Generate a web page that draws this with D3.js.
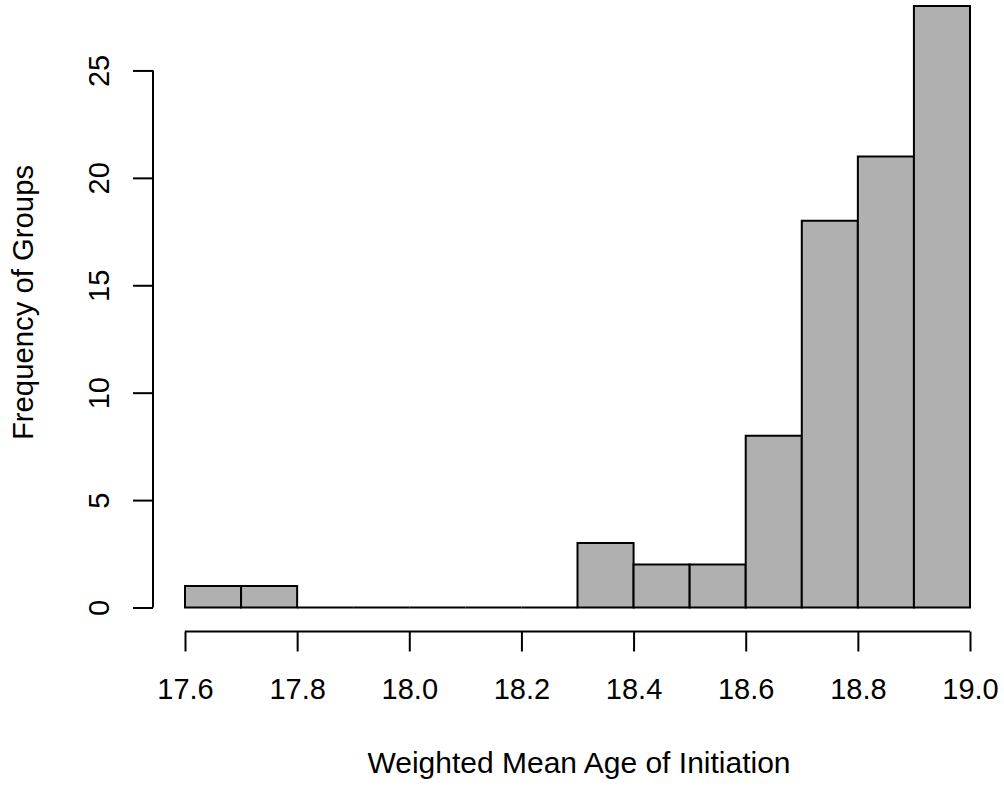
<!DOCTYPE html>
<html>
<head>
<meta charset="utf-8">
<script src="https://cdn.jsdelivr.net/npm/d3@7"></script>
<style>
  html, body { margin: 0; padding: 0; background: #fff; }
  svg { display: block; }
  text { font-family: "Liberation Sans", Arial, sans-serif; fill: #000; }
</style>
</head>
<body>
<svg id="chart" width="1004" height="786"></svg>
<script>
// Histogram bins (left edges, right edges) and counts
const binStarts = [17.6, 17.7, 17.8, 17.9, 18.0, 18.1, 18.2, 18.3, 18.4, 18.5, 18.6, 18.7, 18.8, 18.9];
const binEnds   = [17.7, 17.8, 17.9, 18.0, 18.1, 18.2, 18.3, 18.4, 18.5, 18.6, 18.7, 18.8, 18.9, 19.0];
const counts    = [1, 1, 0, 0, 0, 0, 0, 3, 2, 2, 8, 18, 21, 28];
const xTicks = [17.6, 17.8, 18.0, 18.2, 18.4, 18.6, 18.8, 19.0];
const yTicks = [0, 5, 10, 15, 20, 25];
const xTitle = "Weighted Mean Age of Initiation";
const yTitle = "Frequency of Groups";

const svg = d3.select("#chart");
const x = d3.scaleLinear().domain([17.6, 19.0]).range([185, 970]);
const y = d3.scaleLinear().domain([0, 28]).range([607.5, 6]);
const tickFont = 29;

const bins = binStarts.map((s, i) => ({ x0: s, x1: binEnds[i], n: counts[i] }));

// Bars drawn as closed paths so zero-count bins still show their outline
svg.append("g").selectAll("path")
  .data(bins)
  .join("path")
  .attr("d", d => {
    const x0 = x(d.x0), x1 = x(d.x1), y0 = y(0), y1 = y(d.n);
    return `M${x0},${y0}L${x0},${y1}L${x1},${y1}L${x1},${y0}Z`;
  })
  .attr("fill", "#b0b0b0")
  .attr("stroke", "#000")
  .attr("stroke-width", 2)
  .attr("stroke-linejoin", "miter");

// X axis (R style: line from first to last tick, offset below)
const xAxisY = 631.5;
const xAxis = d3.axisBottom(x).tickValues(xTicks).tickFormat(d3.format(".1f"))
  .tickSizeOuter(0).tickSizeInner(20);
const gx = svg.append("g").attr("transform", `translate(0,${xAxisY})`).call(xAxis);
gx.select(".domain").remove();
gx.append("line")
  .attr("x1", x(xTicks[0])).attr("x2", x(xTicks[xTicks.length - 1]))
  .attr("y1", 0).attr("y2", 0)
  .attr("stroke", "#000").attr("stroke-width", 2);
gx.selectAll(".tick line").attr("stroke", "#000").attr("stroke-width", 2);
gx.selectAll(".tick text")
  .attr("dy", null).attr("y", 67.5)
  .style("font-family", '"Liberation Sans", Arial, sans-serif')
  .style("font-size", tickFont + "px").attr("fill", "#000");

// Y axis
const yAxisX = 153;
const yAxis = d3.axisLeft(y).tickValues(yTicks).tickFormat(d3.format("d"))
  .tickSizeOuter(0).tickSizeInner(20);
const gy = svg.append("g").attr("transform", `translate(${yAxisX},0)`).call(yAxis);
gy.select(".domain").remove();
gy.append("line")
  .attr("x1", 0).attr("x2", 0)
  .attr("y1", y(yTicks[0])).attr("y2", y(yTicks[yTicks.length - 1]))
  .attr("stroke", "#000").attr("stroke-width", 2);
gy.selectAll(".tick line").attr("stroke", "#000").attr("stroke-width", 2);
gy.selectAll(".tick text")
  .attr("x", null).attr("dy", null)
  .attr("text-anchor", "middle")
  .attr("transform", "translate(-44,0) rotate(-90)")
  .style("font-family", '"Liberation Sans", Arial, sans-serif')
  .style("font-size", tickFont + "px").attr("fill", "#000");

// Titles
svg.append("text")
  .attr("x", 579).attr("y", 773)
  .attr("text-anchor", "middle")
  .style("font-size", "30px")
  .text(xTitle);

svg.append("text")
  .attr("transform", "translate(33,302.5) rotate(-90)")
  .attr("text-anchor", "middle")
  .style("font-size", "29.3px")
  .text(yTitle);
</script>
</body>
</html>
